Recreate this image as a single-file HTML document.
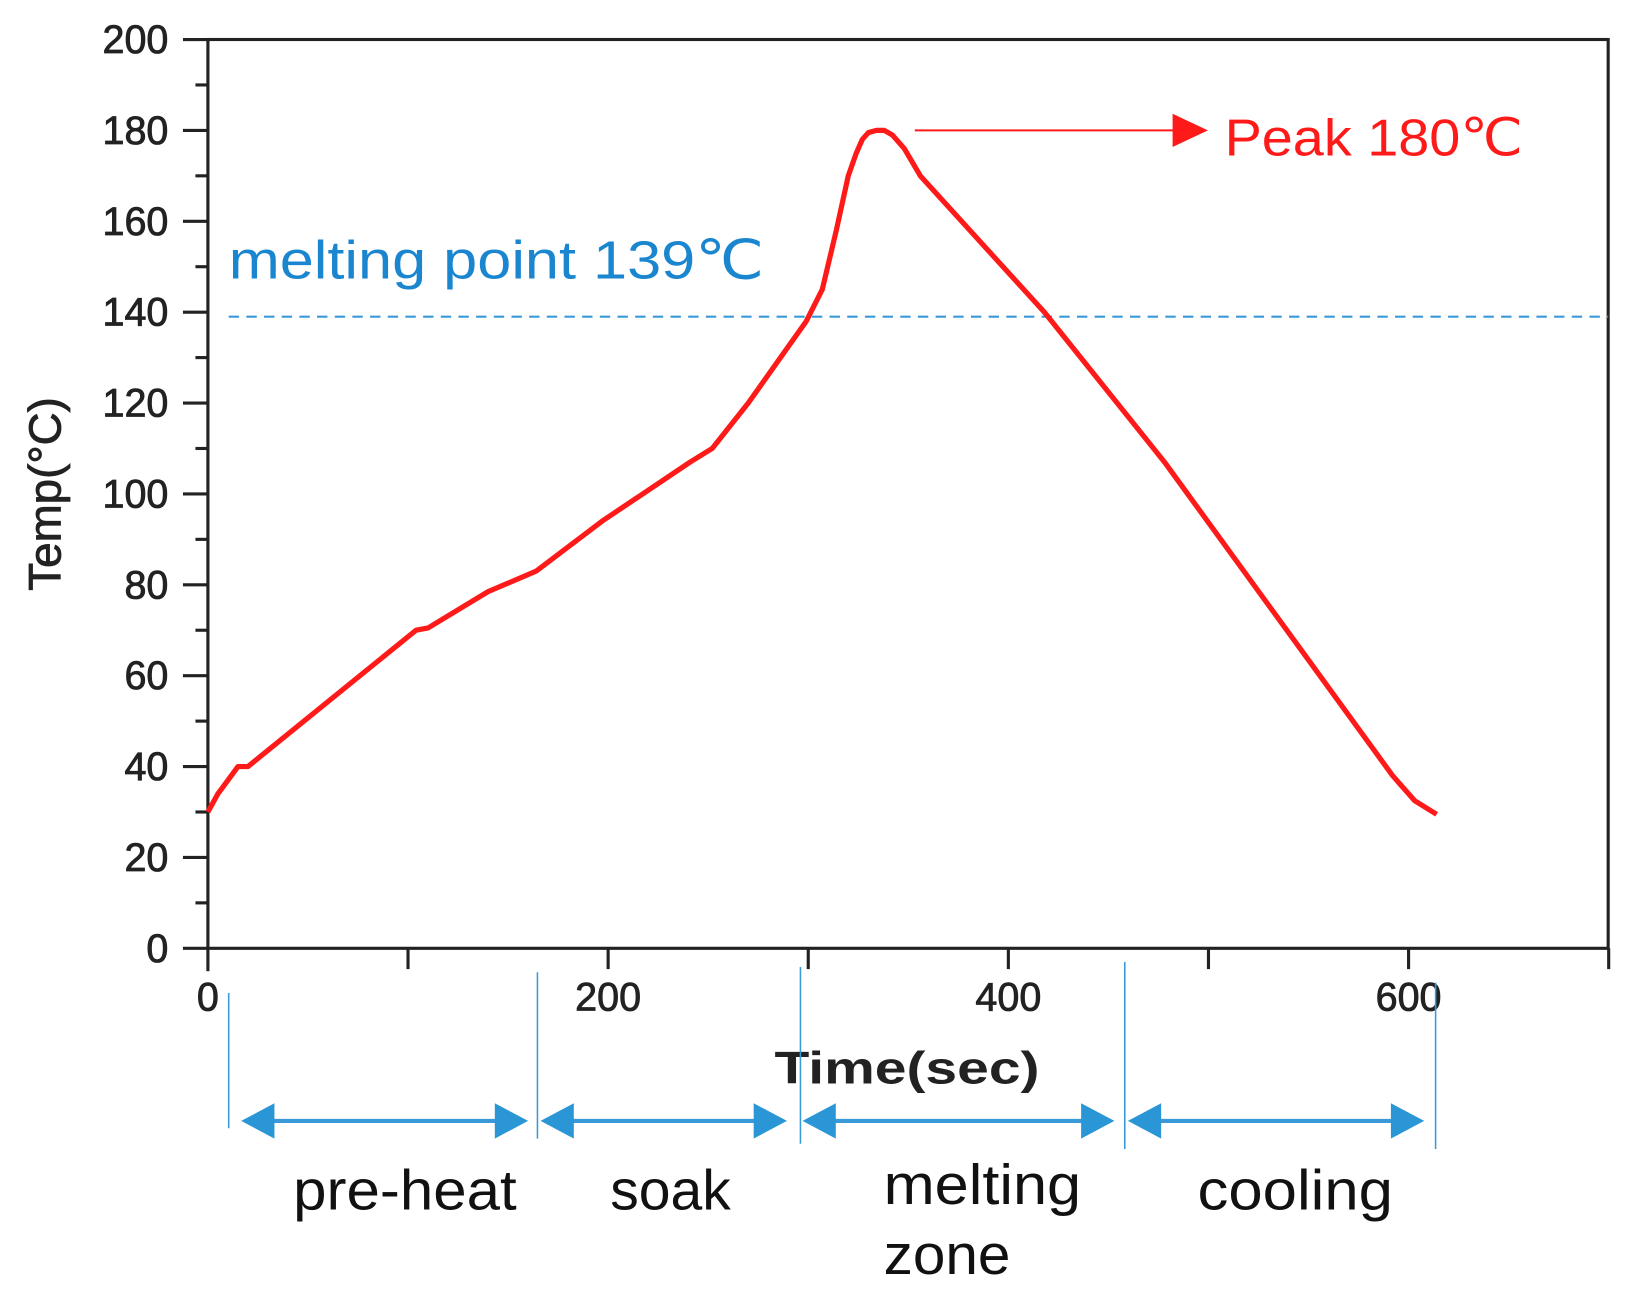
<!DOCTYPE html>
<html><head><meta charset="utf-8"><style>
html,body{margin:0;padding:0;background:#fff;}
svg{display:block;}
</style></head><body>
<svg id="chart" width="1630" height="1306" viewBox="0 0 1568 1256" preserveAspectRatio="none" xmlns="http://www.w3.org/2000/svg" font-family="Liberation Sans, sans-serif">
<g id="axes"></g>
<g id="plot"></g>
<g id="annot"></g>
</svg>
<script>
const timeValues=[0,5,10,15,20,104,110,140,164,197,241,252,270,299,307,314,320,324,327,330,334,338,342,348,356,418,478,592,603,614];
const tempValues=[30,34,37,40,40,70,70.5,78.5,83,94,107,110,120,138,145,158,170,175,178,179.5,180,180,179,176,170,140,107,38,32.5,29.5];
const yTicks=[0,20,40,60,80,100,120,140,160,180,200];
const xTicks=[0,200,400,600];
const meltingPoint=139;
const peakTemp=180;

const NS="http://www.w3.org/2000/svg";
const L=200,R=1547,T=38,B=912;
const xs=v=>L+v*1.925;
const ys=v=>B-v*(B-T)/200;
function mk(tag,attrs,parent,text){const e=document.createElementNS(NS,tag);for(const k in attrs)e.setAttribute(k,attrs[k]);if(text!==undefined)e.textContent=text;parent.appendChild(e);return e;}
const axes=document.getElementById('axes'),plot=document.getElementById('plot'),annot=document.getElementById('annot');

const frame=mk('rect',{x:L,y:T,width:R-L,height:B-T,fill:'none',stroke:'#222','stroke-width':3},axes);


for(let v=0;v<=200;v+=10){
  const major=v%20===0;
  const t=mk('line',{x1:major?L-24:L-12,x2:L,y1:ys(v),y2:ys(v),stroke:'#222','stroke-width':3},axes);
  
  
}
yTicks.forEach(v=>{
  const t=mk('text',{x:L-38,y:ys(v)+13,'text-anchor':'end','font-size':38,fill:'#222',stroke:'#222','stroke-width':0.8},axes,String(v));
  
  
});
for(let v=0;v<=700;v+=100){
  const t=mk('line',{x1:xs(v),x2:xs(v),y1:B,y2:v===0?B+22:B+20,stroke:'#222','stroke-width':3},axes);
  
  
}
xTicks.forEach(v=>{
  const t=mk('text',{x:xs(v),y:B+60,'text-anchor':'middle','font-size':38,fill:'#222',stroke:'#222','stroke-width':0.8},axes,String(v));
  
  
});
const yl=mk('text',{x:0,y:0,transform:`translate(58,475) rotate(-90)`,'text-anchor':'middle','font-size':44,fill:'#222',stroke:'#222','stroke-width':0.8},axes,'Temp(°C)');


const xl=mk('text',{x:745,y:1042,'font-size':44,'font-weight':'bold',fill:'#222',textLength:255,lengthAdjust:'spacingAndGlyphs'},axes,'Time(sec)');



const ml=mk('line',{x1:220,x2:R,y1:ys(meltingPoint),y2:ys(meltingPoint),stroke:'#3a9ad9','stroke-width':2,'stroke-dasharray':'10 7'},plot);


const mt=mk('text',{x:220,y:268,'font-size':52,fill:'#1a86cf',textLength:515,lengthAdjust:'spacingAndGlyphs'},annot,'melting point 139℃');



const d=timeValues.map((t,i)=>(i?'L':'M')+xs(t).toFixed(1)+' '+ys(tempValues[i]).toFixed(1)).join(' ');
const curve=mk('path',{d:d,fill:'none',stroke:'#ff1a1a','stroke-width':5,'stroke-linejoin':'round'},plot);



const py=ys(peakTemp);
const pa=mk('line',{x1:880,x2:1135,y1:py,y2:py,stroke:'#ff1a1a','stroke-width':2},annot);


const ph=mk('polygon',{points:`1128,${py-16} 1162,${py} 1128,${py+16}`,fill:'#ff1a1a'},annot);


const pt=mk('text',{x:1178,y:py+24,'font-size':50,fill:'#ff1a1a',textLength:287,lengthAdjust:'spacingAndGlyphs'},annot,'Peak 180℃');



const vlines=[[220,955,1085],[517,935,1095],[770,930,1100],[1082,925,1105],[1381,945,1105]];
vlines.forEach(v=>{
  const l=mk('line',{x1:v[0],x2:v[0],y1:v[1],y2:v[2],stroke:'#3a9ad9','stroke-width':1.5},annot);
  
  
});
const arrows=[[232,508],[520,757],[772,1072],[1085,1370]];
const ay=1078;
arrows.forEach(a=>{
  const g=mk('g',{},annot);
  
  
  mk('line',{x1:a[0]+20,x2:a[1]-20,y1:ay,y2:ay,stroke:'#3a9ad9','stroke-width':4},g);
  mk('polygon',{points:`${a[0]},${ay} ${a[0]+32},${ay-17} ${a[0]+32},${ay+17}`,fill:'#2a96d6'},g);
  mk('polygon',{points:`${a[1]},${ay} ${a[1]-32},${ay-17} ${a[1]-32},${ay+17}`,fill:'#2a96d6'},g);
});
const labels=[[282,1163,'pre-heat',215],[587,1163,'soak',116],[850,1158,'melting',190],[850,1225,'zone',122],[1152,1163,'cooling',188]];
labels.forEach(l=>{
  const t=mk('text',{x:l[0],y:l[1],'font-size':54,fill:'#111',textLength:l[3],lengthAdjust:'spacingAndGlyphs'},annot,l[2]);
  
  
});
</script>
</body></html>
